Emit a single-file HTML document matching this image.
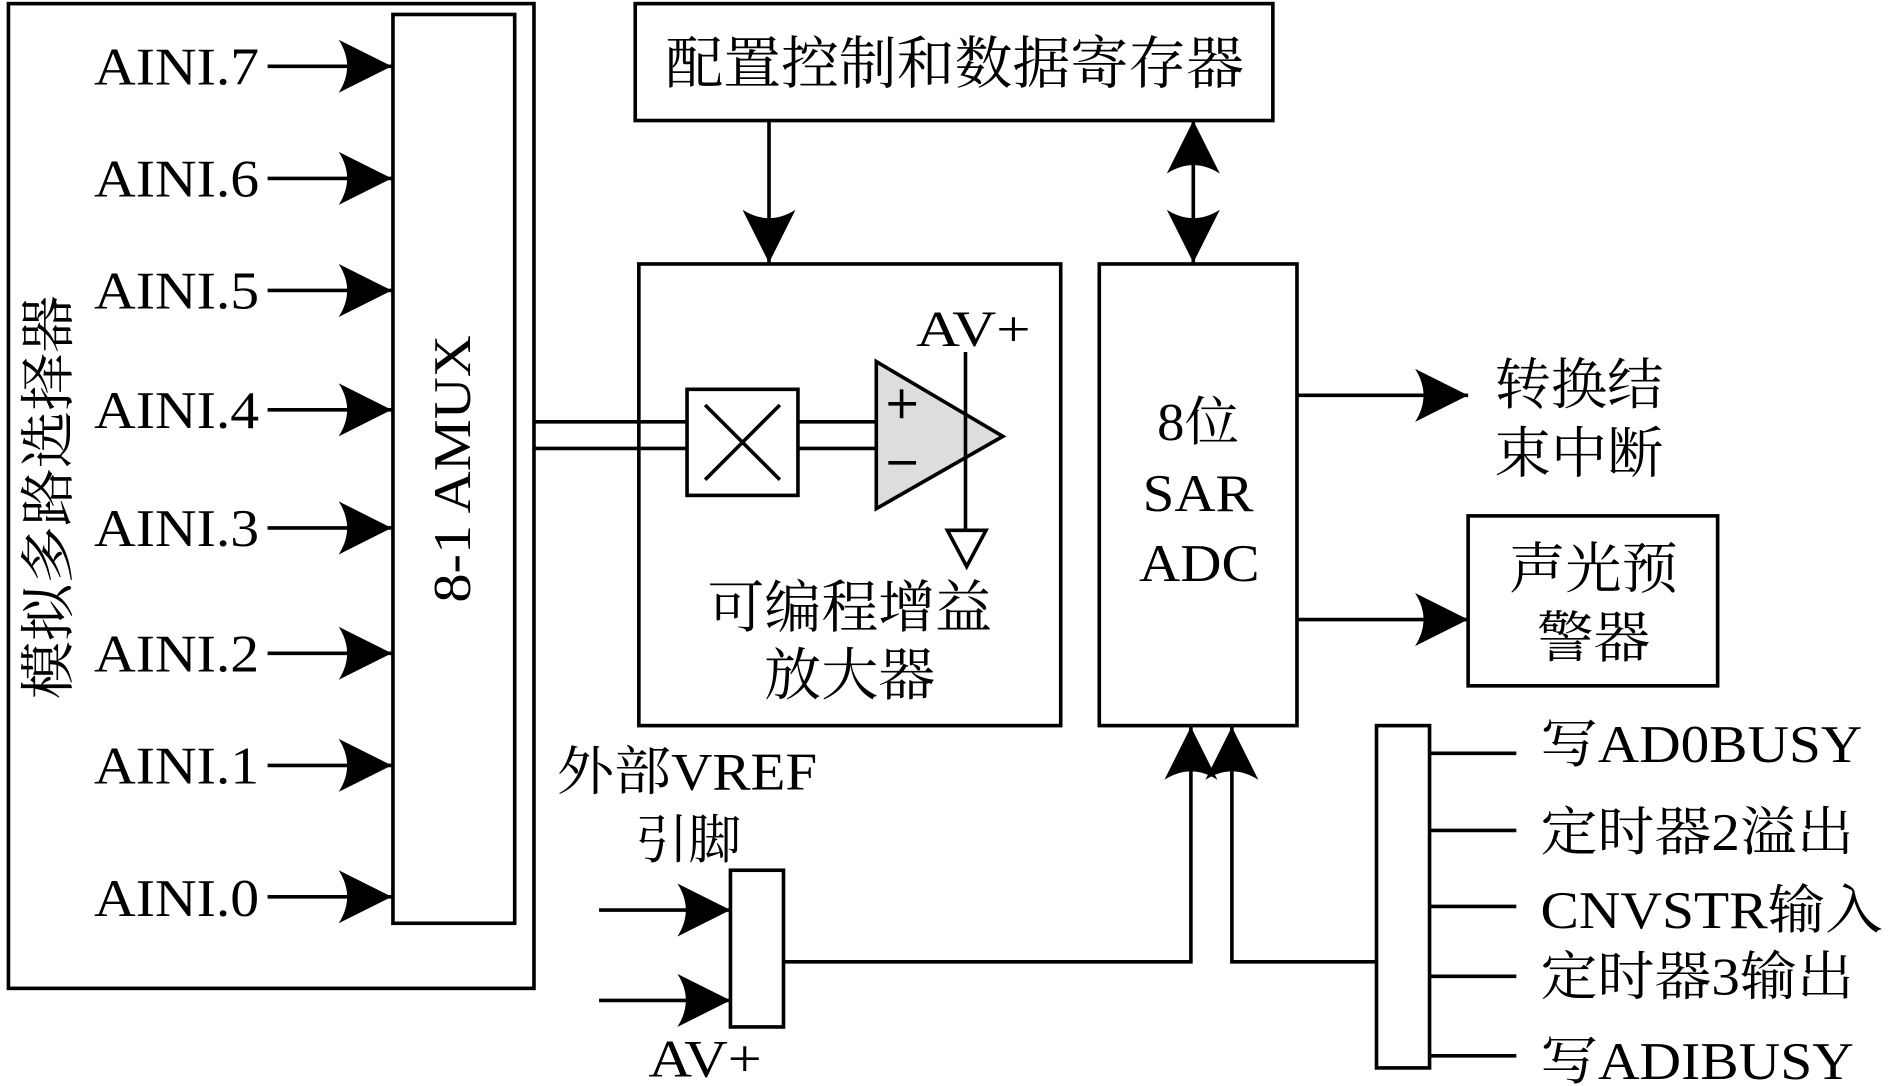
<!DOCTYPE html>
<html><head><meta charset="utf-8"><style>
html,body{margin:0;padding:0;background:#fff;}
svg{display:block;}
text{font-family:"Liberation Serif","Noto Serif CJK SC",serif;fill:#000;}
.s{font-family:"Liberation Sans","Noto Sans CJK SC",sans-serif;}
</style></head><body>
<svg width="1890" height="1086" viewBox="0 0 1568 901" preserveAspectRatio="none" xmlns="http://www.w3.org/2000/svg">
<defs>
<marker id="ah" viewBox="0 0 44 44" refX="44" refY="22" markerWidth="44" markerHeight="44" markerUnits="userSpaceOnUse" orient="auto-start-reverse">
<path d="M0,0 Q14,22 0,44 L44,22 Z" fill="#000"/>
</marker>
</defs>
<g fill="none" stroke="#000" stroke-width="3">
<rect x="7" y="3" width="436" height="817"/>
<rect x="326" y="12" width="101" height="754"/>
<rect x="527" y="3" width="529" height="97"/>
<rect x="530" y="219" width="350" height="383"/>
<rect x="912" y="219" width="164" height="383"/>
<rect x="1218" y="428" width="207" height="141"/>
<rect x="1142" y="602" width="44" height="284"/>
<rect x="606" y="722" width="44" height="130"/>
<rect x="570" y="323" width="92" height="88"/>
<line x1="585" y1="336" x2="647" y2="398"/>
<line x1="647" y1="336" x2="585" y2="398"/>
<line x1="443" y1="350" x2="570" y2="350"/>
<line x1="443" y1="372" x2="570" y2="372"/>
<line x1="662" y1="350" x2="727" y2="350"/>
<line x1="662" y1="372" x2="727" y2="372"/>
<polygon points="727,300 727,422 832,362" fill="#ddd"/>
<line x1="801" y1="292" x2="801" y2="440"/>
<polygon points="786,440 818,440 802,470" fill="#fff"/>
<line x1="748" y1="323" x2="748" y2="347"/><line x1="737" y1="335" x2="760" y2="335"/>
<line x1="737" y1="384" x2="760" y2="384"/>
<line x1="222" y1="55" x2="325" y2="55" marker-end="url(#ah)"/>
<line x1="222" y1="148" x2="325" y2="148" marker-end="url(#ah)"/>
<line x1="222" y1="241" x2="325" y2="241" marker-end="url(#ah)"/>
<line x1="222" y1="340" x2="325" y2="340" marker-end="url(#ah)"/>
<line x1="222" y1="438" x2="325" y2="438" marker-end="url(#ah)"/>
<line x1="222" y1="542" x2="325" y2="542" marker-end="url(#ah)"/>
<line x1="222" y1="635" x2="325" y2="635" marker-end="url(#ah)"/>
<line x1="222" y1="744" x2="325" y2="744" marker-end="url(#ah)"/>
<line x1="638" y1="100" x2="638" y2="218" marker-end="url(#ah)"/>
<line x1="990" y1="100" x2="990" y2="218" marker-start="url(#ah)" marker-end="url(#ah)"/>
<line x1="1076" y1="328" x2="1218" y2="328" marker-end="url(#ah)"/>
<line x1="1076" y1="514" x2="1218" y2="514" marker-end="url(#ah)"/>
<polyline points="650,798 988,798 988,603" marker-end="url(#ah)"/>
<polyline points="1142,798 1022,798 1022,603" marker-end="url(#ah)"/>
<line x1="497" y1="755" x2="606" y2="755" marker-end="url(#ah)"/>
<line x1="497" y1="830" x2="606" y2="830" marker-end="url(#ah)"/>
<line x1="1186" y1="625" x2="1258" y2="625"/>
<line x1="1186" y1="689" x2="1258" y2="689"/>
<line x1="1186" y1="752" x2="1258" y2="752"/>
<line x1="1186" y1="810" x2="1258" y2="810"/>
<line x1="1186" y1="876" x2="1258" y2="876"/>
</g>
<g font-size="44">
<text x="78" y="70" textLength="137" lengthAdjust="spacingAndGlyphs">AINI.7</text>
<text x="78" y="163" textLength="137" lengthAdjust="spacingAndGlyphs">AINI.6</text>
<text x="78" y="256" textLength="137" lengthAdjust="spacingAndGlyphs">AINI.5</text>
<text x="78" y="355" textLength="137" lengthAdjust="spacingAndGlyphs">AINI.4</text>
<text x="78" y="453" textLength="137" lengthAdjust="spacingAndGlyphs">AINI.3</text>
<text x="78" y="557" textLength="137" lengthAdjust="spacingAndGlyphs">AINI.2</text>
<text x="78" y="650" textLength="137" lengthAdjust="spacingAndGlyphs">AINI.1</text>
<text x="78" y="760" textLength="137" lengthAdjust="spacingAndGlyphs">AINI.0</text>
</g>
<text transform="translate(390,500) rotate(-90)" font-size="44" textLength="222" lengthAdjust="spacingAndGlyphs">8-1 AMUX</text>
<text transform="translate(56,580) rotate(-90)" font-size="46" textLength="335" lengthAdjust="spacingAndGlyphs">模拟多路选择器</text>
<text x="552" y="69" font-size="47" textLength="480" lengthAdjust="spacingAndGlyphs">配置控制和数据寄存器</text>
<text x="760" y="287" font-size="42" textLength="95" lengthAdjust="spacingAndGlyphs">AV+</text>
<text x="587" y="520" font-size="47" textLength="236" lengthAdjust="spacingAndGlyphs">可编程增益</text>
<text x="634" y="576" font-size="47" textLength="142" lengthAdjust="spacingAndGlyphs">放大器</text>
<g font-size="44" class="s">
<text x="960" y="365" textLength="68" lengthAdjust="spacingAndGlyphs">8位</text>
<text x="948" y="424" textLength="92" lengthAdjust="spacingAndGlyphs">SAR</text>
<text x="945" y="482" textLength="100" lengthAdjust="spacingAndGlyphs">ADC</text>
</g>
<text x="1240" y="335" font-size="46" textLength="140" lengthAdjust="spacingAndGlyphs">转换结</text>
<text x="1240" y="392" font-size="46" textLength="140" lengthAdjust="spacingAndGlyphs">束中断</text>
<text x="1252" y="488" font-size="46" textLength="140" lengthAdjust="spacingAndGlyphs">声光预</text>
<text x="1275" y="545" font-size="46" textLength="94" lengthAdjust="spacingAndGlyphs">警器</text>
<g font-size="44">
<text x="1278" y="632" textLength="267" lengthAdjust="spacingAndGlyphs">写AD0BUSY</text>
<text x="1278" y="705" textLength="260" lengthAdjust="spacingAndGlyphs">定时器2溢出</text>
<text x="1278" y="770" textLength="284" lengthAdjust="spacingAndGlyphs">CNVSTR输入</text>
<text x="1278" y="825" textLength="260" lengthAdjust="spacingAndGlyphs">定时器3输出</text>
<text x="1278" y="895" textLength="260" lengthAdjust="spacingAndGlyphs">写ADIBUSY</text>
</g>
<text x="462" y="655" font-size="44" textLength="216" lengthAdjust="spacingAndGlyphs">外部VREF</text>
<text x="527" y="712" font-size="44" textLength="88" lengthAdjust="spacingAndGlyphs">引脚</text>
<text x="538" y="893" font-size="44" textLength="94" lengthAdjust="spacingAndGlyphs">AV+</text>
</svg>
</body></html>
